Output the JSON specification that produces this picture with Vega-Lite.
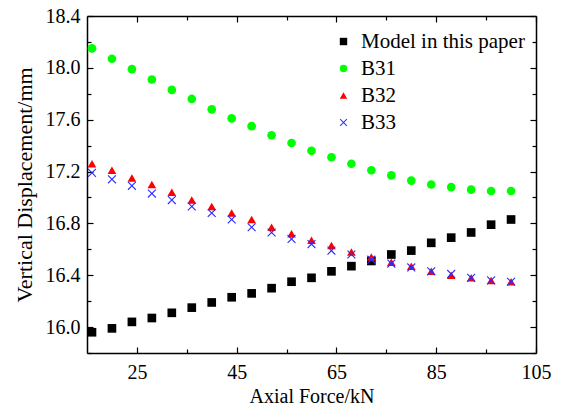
{
  "$schema": "https://vega.github.io/schema/vega-lite/v6.json",
  "width": 449,
  "height": 337,
  "autosize": "none",
  "padding": {"left": 87, "top": 16, "right": 25, "bottom": 53},
  "background": "white",
  "config": {
    "font": "Liberation Serif",
    "view": {"stroke": null},
    "axis": {"grid": false, "domainColor": "black", "domainWidth": 1.5, "tickColor": "black", "tickWidth": 1.2, "labelColor": "black", "titleColor": "black", "labelFont": "Liberation Serif", "titleFont": "Liberation Serif", "labelFontSize": 20, "titleFontSize": 20, "titleFontWeight": "normal"},
    "legend": {"labelFont": "Liberation Serif", "labelFontSize": 21, "labelColor": "black", "labelLimit": 400}
  },
  "data": {"values": [
    {"x": 16, "y": 15.96, "s": "Model in this paper"}, {"x": 20, "y": 15.99, "s": "Model in this paper"}, {"x": 24, "y": 16.04, "s": "Model in this paper"}, {"x": 28, "y": 16.07, "s": "Model in this paper"}, {"x": 32, "y": 16.11, "s": "Model in this paper"}, {"x": 36, "y": 16.15, "s": "Model in this paper"}, {"x": 40, "y": 16.19, "s": "Model in this paper"}, {"x": 44, "y": 16.23, "s": "Model in this paper"}, {"x": 48, "y": 16.26, "s": "Model in this paper"}, {"x": 52, "y": 16.30, "s": "Model in this paper"}, {"x": 56, "y": 16.35, "s": "Model in this paper"}, {"x": 60, "y": 16.38, "s": "Model in this paper"}, {"x": 64, "y": 16.43, "s": "Model in this paper"}, {"x": 68, "y": 16.47, "s": "Model in this paper"}, {"x": 72, "y": 16.51, "s": "Model in this paper"}, {"x": 76, "y": 16.56, "s": "Model in this paper"}, {"x": 80, "y": 16.59, "s": "Model in this paper"}, {"x": 84, "y": 16.65, "s": "Model in this paper"}, {"x": 88, "y": 16.69, "s": "Model in this paper"}, {"x": 92, "y": 16.73, "s": "Model in this paper"}, {"x": 96, "y": 16.79, "s": "Model in this paper"}, {"x": 100, "y": 16.83, "s": "Model in this paper"},
    {"x": 16, "y": 18.15, "s": "B31"}, {"x": 20, "y": 18.07, "s": "B31"}, {"x": 24, "y": 17.99, "s": "B31"}, {"x": 28, "y": 17.91, "s": "B31"}, {"x": 32, "y": 17.83, "s": "B31"}, {"x": 36, "y": 17.76, "s": "B31"}, {"x": 40, "y": 17.68, "s": "B31"}, {"x": 44, "y": 17.61, "s": "B31"}, {"x": 48, "y": 17.55, "s": "B31"}, {"x": 52, "y": 17.48, "s": "B31"}, {"x": 56, "y": 17.42, "s": "B31"}, {"x": 60, "y": 17.36, "s": "B31"}, {"x": 64, "y": 17.31, "s": "B31"}, {"x": 68, "y": 17.26, "s": "B31"}, {"x": 72, "y": 17.21, "s": "B31"}, {"x": 76, "y": 17.17, "s": "B31"}, {"x": 80, "y": 17.13, "s": "B31"}, {"x": 84, "y": 17.10, "s": "B31"}, {"x": 88, "y": 17.08, "s": "B31"}, {"x": 92, "y": 17.06, "s": "B31"}, {"x": 96, "y": 17.05, "s": "B31"}, {"x": 100, "y": 17.05, "s": "B31"},
    {"x": 16, "y": 17.26, "s": "B32"}, {"x": 20, "y": 17.21, "s": "B32"}, {"x": 24, "y": 17.15, "s": "B32"}, {"x": 28, "y": 17.10, "s": "B32"}, {"x": 32, "y": 17.04, "s": "B32"}, {"x": 36, "y": 16.98, "s": "B32"}, {"x": 40, "y": 16.93, "s": "B32"}, {"x": 44, "y": 16.88, "s": "B32"}, {"x": 48, "y": 16.83, "s": "B32"}, {"x": 52, "y": 16.77, "s": "B32"}, {"x": 56, "y": 16.72, "s": "B32"}, {"x": 60, "y": 16.67, "s": "B32"}, {"x": 64, "y": 16.63, "s": "B32"}, {"x": 68, "y": 16.58, "s": "B32"}, {"x": 72, "y": 16.54, "s": "B32"}, {"x": 76, "y": 16.50, "s": "B32"}, {"x": 80, "y": 16.47, "s": "B32"}, {"x": 84, "y": 16.43, "s": "B32"}, {"x": 88, "y": 16.40, "s": "B32"}, {"x": 92, "y": 16.38, "s": "B32"}, {"x": 96, "y": 16.36, "s": "B32"}, {"x": 100, "y": 16.35, "s": "B32"},
    {"x": 16, "y": 17.19, "s": "B33"}, {"x": 20, "y": 17.14, "s": "B33"}, {"x": 24, "y": 17.09, "s": "B33"}, {"x": 28, "y": 17.03, "s": "B33"}, {"x": 32, "y": 16.98, "s": "B33"}, {"x": 36, "y": 16.93, "s": "B33"}, {"x": 40, "y": 16.88, "s": "B33"}, {"x": 44, "y": 16.83, "s": "B33"}, {"x": 48, "y": 16.77, "s": "B33"}, {"x": 52, "y": 16.73, "s": "B33"}, {"x": 56, "y": 16.68, "s": "B33"}, {"x": 60, "y": 16.64, "s": "B33"}, {"x": 64, "y": 16.59, "s": "B33"}, {"x": 68, "y": 16.56, "s": "B33"}, {"x": 72, "y": 16.52, "s": "B33"}, {"x": 76, "y": 16.49, "s": "B33"}, {"x": 80, "y": 16.46, "s": "B33"}, {"x": 84, "y": 16.43, "s": "B33"}, {"x": 88, "y": 16.41, "s": "B33"}, {"x": 92, "y": 16.38, "s": "B33"}, {"x": 96, "y": 16.36, "s": "B33"}, {"x": 100, "y": 16.35, "s": "B33"}
  ]},
  "resolve": {"axis": {"x": "independent", "y": "independent"}},
  "layer": [
    {
      "mark": {"type": "point", "filled": true, "opacity": 1, "size": 75},
      "encoding": {
        "x": {"field": "x", "type": "quantitative", "scale": {"domain": [15, 105], "nice": false, "zero": false},
          "axis": {"orient": "bottom", "values": [25, 35, 45, 55, 65, 75, 85, 95, 105], "labelExpr": "datum.value % 20 == 5 ? datum.label : ''", "tickSize": {"condition": {"test": "datum.value % 20 == 5", "value": -6}, "value": -4}, "labelPadding": 15, "labelFlush": false, "labelOverlap": false, "labelFont": "Liberation Serif", "titleFont": "Liberation Serif", "title": "Axial Force/kN", "titlePadding": 2}},
        "y": {"field": "y", "type": "quantitative", "scale": {"domain": [15.8, 18.4], "nice": false, "zero": false},
          "axis": {"orient": "left", "values": [15.8, 16.0, 16.2, 16.4, 16.6, 16.8, 17.0, 17.2, 17.4, 17.6, 17.8, 18.0, 18.2, 18.4], "format": ".1f", "labelExpr": "abs((datum.value - 16) / 0.4 - round((datum.value - 16) / 0.4)) < 0.01 ? datum.label : ''", "tickSize": {"condition": {"test": "abs((datum.value - 16) / 0.4 - round((datum.value - 16) / 0.4)) < 0.01", "value": -6}, "value": -4}, "labelPadding": 13, "labelFlush": false, "labelOverlap": false, "labelFont": "Liberation Serif", "titleFont": "Liberation Serif", "title": "Vertical Displacement/mm", "titleFontSize": 22, "titlePadding": 9}},
        "color": {"field": "s", "type": "nominal", "scale": {"domain": ["Model in this paper", "B31", "B32", "B33"], "range": ["#000000", "#00ff00", "#ff0000", "#2a2aff"]},
          "legend": {"title": null, "orient": "none", "legendX": 246, "legendY": 15, "symbolSize": 55, "labelOffset": 7, "rowPadding": 5, "padding": 0, "symbolStrokeWidth": 0, "labelFont": "Liberation Serif", "labelFontSize": 21, "labelLimit": 400}},
        "shape": {"field": "s", "type": "nominal", "scale": {"domain": ["Model in this paper", "B31", "B32", "B33"], "range": ["square", "circle", "triangle-up", "M-1,-0.82L-0.82,-1L0,-0.18L0.82,-1L1,-0.82L0.18,0L1,0.82L0.82,1L0,0.18L-0.82,1L-1,0.82L-0.18,0Z"]}}
      }
    },
    {
      "mark": {"type": "point", "opacity": 0},
      "encoding": {
        "x": {"field": "x", "type": "quantitative", "scale": {"domain": [15, 105], "nice": false, "zero": false},
          "axis": {"orient": "top", "values": [25, 35, 45, 55, 65, 75, 85, 95, 105], "labels": false, "tickSize": {"condition": {"test": "datum.value % 20 == 5", "value": -6}, "value": -4}, "title": null}},
        "y": {"field": "y", "type": "quantitative", "scale": {"domain": [15.8, 18.4], "nice": false, "zero": false},
          "axis": {"orient": "right", "values": [15.8, 16.0, 16.2, 16.4, 16.6, 16.8, 17.0, 17.2, 17.4, 17.6, 17.8, 18.0, 18.2, 18.4], "labels": false, "tickSize": {"condition": {"test": "abs((datum.value - 16) / 0.4 - round((datum.value - 16) / 0.4)) < 0.01", "value": -6}, "value": -4}, "title": null}}
      }
    }
  ]
}
